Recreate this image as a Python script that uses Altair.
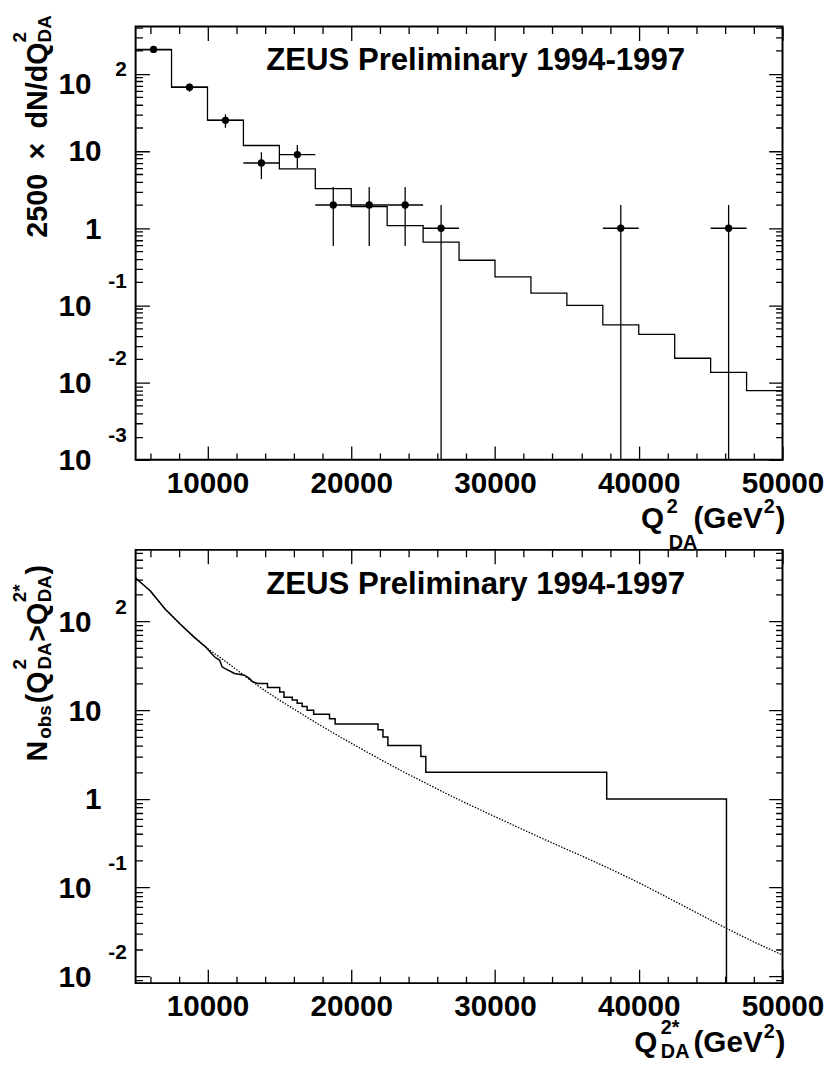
import altair as alt
import pandas as pd

FONT = "Liberation Sans"
TITLE = "ZEUS Preliminary 1994-1997"
W, H = 654, 438

# ---------------- axes ----------------
x_domain = [5000, 50000]
x_major = [10000, 20000, 30000, 40000, 50000]
x_minor = [6000, 8000, 12000, 14000, 16000, 18000, 22000, 24000, 26000, 28000,
           32000, 34000, 36000, 38000, 42000, 44000, 46000, 48000]

top_ydomain = [0.001, 409]
top_dec = [0.001, 0.01, 0.1, 1, 10, 100]
top_exp = ["-3", "-2", "-1", "", "", "2"]

bot_ydomain = [0.0084, 640]
bot_dec = [0.01, 0.1, 1, 10, 100]
bot_exp = ["-2", "-1", "", "", "2"]

# ---------------- top panel: dN/dQ2 ----------------
mc_edges = [5000, 7500, 10000, 12500, 15000, 17500, 20000, 22500, 25000, 27500,
            30000, 32500, 35000, 37500, 40000, 42500, 45000, 47500, 50000]
mc_val = [205, 67, 25.2, 11.8, 5.87, 3.26, 1.90, 1.08, 0.662, 0.385,
          0.235, 0.144, 0.100, 0.0561, 0.0421, 0.0207, 0.0136, 0.00789]

d_lo = [5000, 7500, 10000, 12500, 15000, 17500, 20000, 22500, 25000, 37500, 45000]
d_hi = [7500, 10000, 12500, 15000, 17500, 20000, 22500, 25000, 27500, 40000, 47500]
d_n = [207, 67, 25, 7, 9, 2, 2, 2, 1, 1, 1]
d_err = [14.4, 8.2, 5.0, 2.65, 3.0, 1.41, 1.41, 1.41, 1.0, 1.0, 1.0]

# ---------------- bottom panel: N_obs(Q2 > Q2*) ----------------
nobs_q = [5000, 6032, 7065, 8097, 9129, 9932, 10276, 10506, 10850, 11010, 11194,
          11882, 12570, 12914, 13144, 13488, 14175, 14175, 15024, 15024, 15322,
          15322, 15896, 15896, 16241, 16241, 16585, 16585, 16929, 16929, 17388,
          17388, 18489, 18489, 18879, 18879, 21861, 21861, 22205, 22205, 22549,
          22549, 24843, 24843, 25187, 25187, 37770, 37770, 46100, 46100]
nobs_n = [309, 220, 137, 93.6, 65.3, 50.6, 43.4, 39.7, 36.5, 30.8, 29.5,
          25.9, 24.8, 22.8, 20.9, 20, 20, 18, 18, 16, 16,
          14, 14, 13, 13, 12, 12, 11, 11, 10, 10,
          9, 9, 8, 8, 7, 7, 6, 6, 5, 5,
          4, 4, 3, 3, 2, 2, 1, 1, 0.001]

exp_q = [5000, 6000, 7000, 8000, 9000, 10000, 11000, 12000, 13000, 14000, 15000,
         16000, 17000, 18000, 19000, 20000, 21000, 22000, 23000, 24000, 25000,
         26000, 27000, 28000, 29000, 30000, 32000, 34000, 36000, 38000, 40000,
         42000, 44000, 46000, 48000, 50000]
exp_n = [309, 221, 141, 96.6, 68.1, 49.5, 38.0, 28.8, 21.6, 16.6, 13.0,
         10.3, 8.17, 6.53, 5.25, 4.24, 3.44, 2.80, 2.29, 1.88, 1.56,
         1.29, 1.07, 0.895, 0.750, 0.631, 0.447, 0.318, 0.229, 0.163, 0.114,
         0.0775, 0.0525, 0.0355, 0.0245, 0.0174]


def xs():
    return alt.Scale(domain=x_domain, nice=False, zero=False)


def ys(dom):
    return alt.Scale(type="log", domain=dom, nice=False)


IS_DEC = "abs(log(datum.value)/LN10 - round(log(datum.value)/LN10)) < 0.001"
IS_XMAJ = "datum.value % 10000 == 0"

# x axis: labels on the majors; inward ticks on both edges via dashed grid lines
XAXIS = alt.Axis(
    orient="bottom", values=sorted(x_major + x_minor), format="d",
    labelExpr=IS_XMAJ + " ? datum.label : ''",
    labelFont=FONT, labelFontWeight="bold", labelColor="black",
    labelFontSize={"condition": {"test": IS_XMAJ, "value": 30}, "value": 0},
    ticks=False, tickSize=0, domain=False, labelPadding=9, title=None,
    labelFlush=False, labelOverlap=False,
    grid=True, gridColor="black", gridWidth=1.3, gridOpacity=1,
    gridDash={"condition": {"test": IS_XMAJ, "value": [14, H - 28, 14, 5000]},
              "value": [7, H - 14, 7, 5000]},
)


def yaxis(ydom, decs, hi_offset):
    minors = [k * d for d in [0.001, 0.01, 0.1, 1, 10, 100] for k in range(2, 10)
              if ydom[0] <= k * d <= ydom[1]]
    return alt.Axis(
        orient="left", values=sorted(decs + minors), title=None,
        labelExpr=IS_DEC + " ? (abs(datum.value - 1) < 0.001 ? '1' : '10') : ''",
        labelFont=FONT, labelFontWeight="bold", labelColor="black",
        labelFontSize={"condition": {"test": IS_DEC, "value": 30}, "value": 0},
        labelAlign="right", labelBaseline="middle", labelOverlap=False, labelFlush=False,
        labelPadding={"condition": {"test": "datum.value > 0.5 && datum.value < 20",
                                    "value": 35}, "value": 45},
        labelOffset={"condition": {"test": "datum.value > 50", "value": hi_offset},
                     "value": 1},
        ticks=False, tickSize=0, domain=False,
        grid=True, gridColor="black", gridWidth=1.3, gridOpacity=1,
        gridDash={"condition": {"test": IS_DEC, "value": [14, W - 28, 14, 5000]},
                  "value": [7, W - 14, 7, 5000]},
    )


def text1(txt, size, x, y, angle=0, align="left"):
    return alt.Chart(pd.DataFrame({"t": [txt]})).mark_text(
        font=FONT, fontWeight="bold", fontSize=size, color="black",
        align=align, baseline="alphabetic", angle=angle
    ).encode(text="t:N", x=alt.value(x), y=alt.value(y))


def exponents(Y, decs, exps, pos_dy):
    com = dict(font=FONT, fontWeight="bold", color="black", baseline="middle",
               align="right", fontSize=21)
    neg = pd.DataFrame({"v": [v for v, e in zip(decs, exps) if e.startswith("-")],
                        "e": [e for e in exps if e.startswith("-")]})
    pos = pd.DataFrame({"v": [v for v, e in zip(decs, exps) if e and not e.startswith("-")],
                        "e": [e for e in exps if e and not e.startswith("-")]})
    return [
        alt.Chart(neg).mark_text(dy=-24, **com).encode(y=Y("v:Q"), x=alt.value(-9), text="e:N"),
        alt.Chart(pos).mark_text(dy=pos_dy, **com).encode(y=Y("v:Q"), x=alt.value(-9), text="e:N"),
    ]


# invisible anchor fixing the top-left corner of the drawing
anchor = alt.Chart(pd.DataFrame({"a": [0]})).mark_text(
    opacity=0, text=".", fontSize=1, baseline="top", align="left").encode(
    x=alt.value(-128), y=alt.value(-11))

X = lambda f: alt.X(f, scale=xs(), axis=XAXIS)

# ---------- top panel ----------
YAX_T = yaxis(top_ydomain, top_dec, 11)
YT_ = lambda f: alt.Y(f, scale=ys(top_ydomain), axis=YAX_T)

hist_df = pd.DataFrame({"q": mc_edges, "v": mc_val + [mc_val[-1]]})
hist = alt.Chart(hist_df).mark_line(color="black", strokeWidth=1.3, interpolate="step-after",
                                    clip=True).encode(x=X("q:Q"), y=YT_("v:Q"))

pts = pd.DataFrame({"lo": d_lo, "hi": d_hi, "n": d_n, "err": d_err})
pts["c"] = (pts["lo"] + pts["hi"]) / 2
pts["elo"] = (pts["n"] - pts["err"]).clip(lower=top_ydomain[0])
pts["ehi"] = pts["n"] + pts["err"]

herr = alt.Chart(pts).mark_rule(color="black", strokeWidth=1.3, clip=True).encode(
    x=X("lo:Q"), x2="hi:Q", y=YT_("n:Q"))
verr = alt.Chart(pts).mark_rule(color="black", strokeWidth=1.3, clip=True).encode(
    x=X("c:Q"), y=YT_("elo:Q"), y2="ehi:Q")
dots = alt.Chart(pts).mark_circle(color="black", size=55, opacity=1).encode(
    x=X("c:Q"), y=YT_("n:Q"))

YT = 16  # top end of the rotated y-title pieces
top_layers = [hist, herr, verr, dots] + exponents(YT_, top_dec, top_exp, -4) + [
    anchor,
    text1(TITLE, 31.5, 132, 44),
    # x title  Q^2_DA (GeV^2)
    text1("Q", 30, 511, 507), text1("2", 20, 537, 492),
    text1("DA", 20, 539, 528),
    text1("(GeV", 30, 564, 507), text1("2", 20, 635, 492), text1(")", 30, 647, 507),
    # y title  2500 x dN/dQ^2_DA
    text1("2500\u2002\u00d7\u2002dN/dQ", 29, -90, YT, angle=270, align="right"),
    text1("2", 19, -111, YT, angle=270), text1("DA", 19, -86, YT, angle=270),
]
top = alt.layer(*top_layers).properties(width=W, height=H)

# ---------- bottom panel ----------
YAX_B = yaxis(bot_ydomain, bot_dec, 1)
YB_ = lambda f: alt.Y(f, scale=ys(bot_ydomain), axis=YAX_B)

nobs_df = pd.DataFrame({"q": nobs_q, "n": nobs_n, "i": list(range(len(nobs_q)))})
solid = alt.Chart(nobs_df).mark_line(color="black", strokeWidth=1.5, clip=True).encode(
    x=X("q:Q"), y=YB_("n:Q"), order="i:Q")
exp_df = pd.DataFrame({"q": exp_q, "n": exp_n})
dotted = alt.Chart(exp_df).mark_line(color="black", strokeWidth=1.3, strokeDash=[1.5, 1.5],
                                     clip=True).encode(x=X("q:Q"), y=YB_("n:Q"))

bot_layers = [solid, dotted] + exponents(YB_, bot_dec, bot_exp, -13) + [
    text1(TITLE, 31.5, 132, 45),
    # x title Q^2*_DA (GeV^2)
    text1("Q", 30, 504, 508), text1("2*", 20, 531, 489), text1("DA", 20, 531, 514),
    text1("(GeV", 30, 564, 508), text1("2", 20, 635, 493), text1(")", 30, 647, 508),
    # y title N_obs(Q^2_DA > Q^2*_DA)
    text1("N", 29, -90, 214, angle=270), text1("obs", 19, -86, 191, angle=270),
    text1("(Q", 29, -90, 155, angle=270),
    text1("2", 19, -111, 121, angle=270), text1("DA", 19, -86, 121, angle=270),
    text1(">Q", 29, -90, 93, angle=270),
    text1("2*", 19, -111, 53, angle=270), text1("DA", 19, -86, 53, angle=270),
    text1(")", 29, -90, 25, angle=270),
]
bot = alt.layer(*bot_layers).properties(width=W, height=H)

chart = alt.vconcat(top, bot, spacing=91, bounds="flush").properties(
    padding={"left": 0, "top": 0, "right": 5, "bottom": 0},
).configure_view(stroke="black", strokeWidth=2)

chart.save("out.html", embed_options={"renderer": "svg", "actions": False})
